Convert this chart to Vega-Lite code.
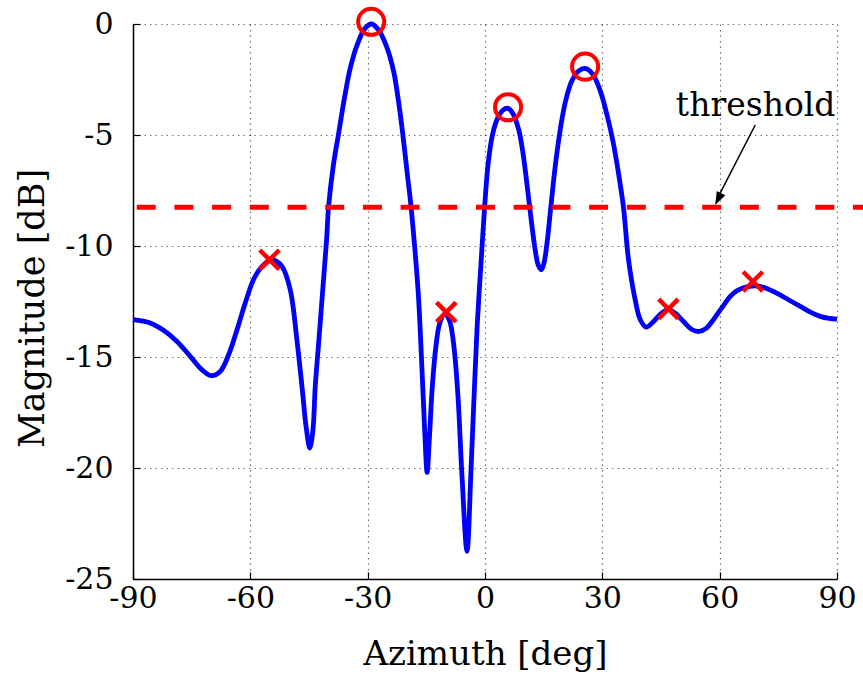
{
  "$schema": "https://vega.github.io/schema/vega-lite/v6.json",
  "width": 704,
  "height": 555,
  "autosize": {"type": "none"},
  "padding": {"left": 133, "top": 24, "right": 26, "bottom": 95},
  "config": {
    "view": {"stroke": null},
    "font": "DejaVu Serif",
    "axis": {
      "labelFont": "DejaVu Serif",
      "titleFont": "DejaVu Serif",
      "labelFontSize": 30,
      "titleFontSize": 34,
      "titleFontWeight": "normal",
      "labelColor": "#000",
      "titleColor": "#000",
      "domainColor": "#000",
      "domainWidth": 1.5,
      "tickColor": "#000",
      "tickWidth": 1.2,
      "tickSize": -7,
      "grid": true,
      "gridColor": "#000",
      "gridOpacity": 0.55,
      "gridDash": [1.5, 4],
      "gridWidth": 1.2
    }
  },
  "datasets": {
    "curve": [
      {"az": -90, "mag": -13.32},
      {"az": -85.6, "mag": -13.47},
      {"az": -82.2, "mag": -13.8},
      {"az": -78.75, "mag": -14.3},
      {"az": -75.35, "mag": -14.97},
      {"az": -72.4, "mag": -15.57},
      {"az": -70.06, "mag": -15.84},
      {"az": -67.7, "mag": -15.65},
      {"az": -65.55, "mag": -14.9},
      {"az": -63.4, "mag": -13.77},
      {"az": -61.3, "mag": -12.57},
      {"az": -59.2, "mag": -11.52},
      {"az": -57.0, "mag": -10.92},
      {"az": -54.5, "mag": -10.62},
      {"az": -51.9, "mag": -10.92},
      {"az": -49.8, "mag": -11.97},
      {"az": -48.1, "mag": -14.22},
      {"az": -46.8, "mag": -16.32},
      {"az": -45.7, "mag": -18.2},
      {"az": -44.8, "mag": -19.1},
      {"az": -44.0, "mag": -18.3},
      {"az": -43.4, "mag": -16.32},
      {"az": -42.5, "mag": -14.3},
      {"az": -41.5, "mag": -12.0},
      {"az": -40.5, "mag": -9.72},
      {"az": -40, "mag": -8.25},
      {"az": -38.8, "mag": -6.4},
      {"az": -37.4, "mag": -4.9},
      {"az": -35.9, "mag": -3.3},
      {"az": -34.4, "mag": -1.95},
      {"az": -32.5, "mag": -0.85},
      {"az": -30.7, "mag": -0.2},
      {"az": -29, "mag": 0},
      {"az": -27.3, "mag": -0.25},
      {"az": -25.3, "mag": -0.95},
      {"az": -23.4, "mag": -2.1},
      {"az": -22.1, "mag": -3.5},
      {"az": -21, "mag": -5},
      {"az": -19.9, "mag": -6.7},
      {"az": -18.9, "mag": -8.25},
      {"az": -17.9, "mag": -10.2},
      {"az": -17.0, "mag": -12.3},
      {"az": -16.1, "mag": -15.6},
      {"az": -15.4, "mag": -18.4},
      {"az": -14.8, "mag": -20.2},
      {"az": -14.2, "mag": -18.6},
      {"az": -13.5, "mag": -16.4},
      {"az": -12.6, "mag": -14.6},
      {"az": -11.6, "mag": -13.5},
      {"az": -10.2, "mag": -13.05},
      {"az": -9, "mag": -13.4},
      {"az": -7.9, "mag": -14.6},
      {"az": -6.9, "mag": -16.8},
      {"az": -5.9, "mag": -20.3},
      {"az": -4.6, "mag": -23.75},
      {"az": -3.6, "mag": -20.2},
      {"az": -2.8, "mag": -16.8},
      {"az": -2.0, "mag": -13.6},
      {"az": -1.1, "mag": -11.0},
      {"az": -0.1, "mag": -8.25},
      {"az": 0.8, "mag": -6.3},
      {"az": 1.9, "mag": -5.0},
      {"az": 3.2, "mag": -4.25},
      {"az": 4.6, "mag": -3.88},
      {"az": 5.9, "mag": -3.8},
      {"az": 7.2, "mag": -4.05},
      {"az": 8.6, "mag": -4.75},
      {"az": 9.7, "mag": -5.8},
      {"az": 10.7, "mag": -7.17},
      {"az": 11.8, "mag": -8.8},
      {"az": 12.85, "mag": -10.2},
      {"az": 13.6, "mag": -10.85},
      {"az": 14.4, "mag": -11.07},
      {"az": 15.1, "mag": -10.75},
      {"az": 15.8, "mag": -9.95},
      {"az": 16.8, "mag": -8.3},
      {"az": 17.95, "mag": -6.42},
      {"az": 19.2, "mag": -4.8},
      {"az": 20.5, "mag": -3.55},
      {"az": 22, "mag": -2.65},
      {"az": 23.7, "mag": -2.15},
      {"az": 25.6, "mag": -2.0},
      {"az": 27.5, "mag": -2.25},
      {"az": 29.45, "mag": -3.0},
      {"az": 31.2, "mag": -4.1},
      {"az": 32.85, "mag": -5.4},
      {"az": 34.2, "mag": -6.8},
      {"az": 35.4, "mag": -8.25},
      {"az": 36.7, "mag": -10.62},
      {"az": 38.4, "mag": -12.42},
      {"az": 39.7, "mag": -13.32},
      {"az": 41.2, "mag": -13.65},
      {"az": 43.1, "mag": -13.4},
      {"az": 45.0, "mag": -13.05},
      {"az": 46.9, "mag": -12.87},
      {"az": 48.8, "mag": -13.05},
      {"az": 50.75, "mag": -13.4},
      {"az": 52.8, "mag": -13.75},
      {"az": 54.8, "mag": -13.85},
      {"az": 56.6, "mag": -13.7},
      {"az": 58.4, "mag": -13.32},
      {"az": 60.5, "mag": -12.8},
      {"az": 62.7, "mag": -12.27},
      {"az": 64.4, "mag": -12.02},
      {"az": 66.1, "mag": -11.88},
      {"az": 69.1, "mag": -11.79},
      {"az": 71.8, "mag": -11.9},
      {"az": 74.6, "mag": -12.12},
      {"az": 77.6, "mag": -12.42},
      {"az": 80.6, "mag": -12.72},
      {"az": 83.2, "mag": -12.98},
      {"az": 85.7, "mag": -13.17},
      {"az": 88, "mag": -13.26},
      {"az": 90, "mag": -13.29}
    ],
    "peaks": [
      {"az": -29.1, "mag": 0.1},
      {"az": 5.9, "mag": -3.75},
      {"az": 25.6, "mag": -1.92}
    ],
    "rejected": [
      {"az": -55.1, "mag": -10.62},
      {"az": -9.9, "mag": -12.98},
      {"az": 46.9, "mag": -12.83},
      {"az": 68.5, "mag": -11.6}
    ],
    "threshold": [{"x": -89.05, "x2": 97, "y": -8.25}],
    "arrow": [{"x": 69.1, "y": -4.55, "x2": 59.3, "y2": -7.9}],
    "arrowhead": [{"x": 58.85, "y": -8.15}],
    "label": [{"x": 89.6, "y": -4.15, "text": "threshold"}]
  },
  "layer": [
    {
      "data": {"name": "curve"},
      "mark": {"type": "line", "color": "#0000ff", "strokeWidth": 4.8, "interpolate": "catmull-rom", "clip": false},
      "encoding": {
        "x": {
          "field": "az", "type": "quantitative",
          "scale": {"domain": [-90, 90], "nice": false, "zero": false},
          "axis": {"values": [-90, -60, -30, 0, 30, 60, 90], "title": "Azimuth [deg]", "labelExpr": "toString(datum.value)", "labelPadding": 11, "titlePadding": 24, "labelFlush": false}
        },
        "y": {
          "field": "mag", "type": "quantitative",
          "scale": {"domain": [-25, 0], "nice": false, "zero": false},
          "axis": {"values": [-25, -20, -15, -10, -5, 0], "title": "Magnitude [dB]", "titleFontSize": 35, "titleY": 284, "labelExpr": "toString(datum.value)", "labelPadding": 27, "titlePadding": 14, "labelFlush": false}
        }
      }
    },
    {
      "data": {"name": "threshold"},
      "mark": {"type": "rule", "color": "#ff0000", "strokeWidth": 5, "strokeDash": [19, 18.7], "clip": false},
      "encoding": {
        "x": {"field": "x", "type": "quantitative"},
        "x2": {"field": "x2"},
        "y": {"field": "y", "type": "quantitative"}
      }
    },
    {
      "data": {"name": "peaks"},
      "mark": {"type": "point", "shape": "circle", "filled": false, "color": "#ff0000", "size": 680, "strokeWidth": 4, "opacity": 1, "clip": false},
      "encoding": {
        "x": {"field": "az", "type": "quantitative"},
        "y": {"field": "mag", "type": "quantitative"}
      }
    },
    {
      "data": {"name": "rejected"},
      "mark": {"type": "point", "shape": "M-1,-1L1,1M1,-1L-1,1", "filled": false, "color": "#ff0000", "size": 380, "strokeWidth": 4.5, "opacity": 1, "clip": false},
      "encoding": {
        "x": {"field": "az", "type": "quantitative"},
        "y": {"field": "mag", "type": "quantitative"}
      }
    },
    {
      "data": {"name": "arrow"},
      "mark": {"type": "rule", "color": "#000", "strokeWidth": 1.5},
      "encoding": {
        "x": {"field": "x", "type": "quantitative"},
        "y": {"field": "y", "type": "quantitative"},
        "x2": {"field": "x2"},
        "y2": {"field": "y2"}
      }
    },
    {
      "data": {"name": "arrowhead"},
      "mark": {"type": "point", "shape": "M0,0L-0.36,1L0.36,1Z", "filled": true, "color": "#000", "size": 700, "angle": 206.6, "opacity": 1, "strokeWidth": 0},
      "encoding": {
        "x": {"field": "x", "type": "quantitative"},
        "y": {"field": "y", "type": "quantitative"}
      }
    },
    {
      "data": {"name": "label"},
      "mark": {"type": "text", "align": "right", "baseline": "alphabetic", "font": "DejaVu Serif", "fontSize": 33, "color": "#000"},
      "encoding": {
        "x": {"field": "x", "type": "quantitative"},
        "y": {"field": "y", "type": "quantitative"},
        "text": {"field": "text"}
      }
    }
  ]
}
